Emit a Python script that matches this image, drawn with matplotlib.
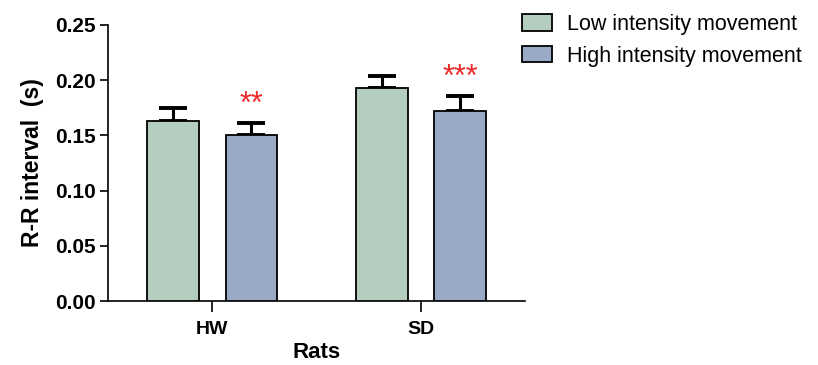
import matplotlib.pyplot as plt
import numpy as np

plt.rcParams['font.family'] = ['Liberation Sans', 'DejaVu Sans']

groups = ["HW", "SD"]
series = ["Low intensity movement", "High intensity movement"]
low_mean = [0.163, 0.193]
low_sem = [0.012, 0.011]
high_mean = [0.150, 0.172]
high_sem = [0.011, 0.014]
stars = ["", ""], ["**", "***"]

colors = ["#b5cdbf", "#9aa9c6"]

fig = plt.figure(figsize=(8.18, 3.65), dpi=100)
ax = fig.add_axes([0.132, 0.175, 0.51, 0.757])

x = np.arange(len(groups))
w = 0.248
off = 0.188

for i, (mean, sem, lab) in enumerate([(low_mean, low_sem, series[0]),
                                      (high_mean, high_sem, series[1])]):
    pos = x + (-off if i == 0 else off)
    ax.bar(pos, mean, w, color=colors[i], edgecolor="black", linewidth=1.3,
           label=lab, zorder=3)
    ax.errorbar(pos, mean, yerr=[np.zeros(len(sem)), sem], fmt="none",
                ecolor="black", elinewidth=2.2, capsize=10, capthick=2.8, zorder=2)
    for p, m, s, t in zip(pos, mean, sem, stars[i]):
        if t:
            ax.text(p, m + s + 0.009, t, color="#ee2a2a", ha="center",
                    va="baseline", fontsize=22)

ax.set_xlim(-0.5, 1.5)
ax.set_ylim(0, 0.25)
ax.set_yticks(np.arange(0, 0.26, 0.05))
ax.set_yticklabels([f"{v:.2f}" for v in np.arange(0, 0.26, 0.05)],
                   fontsize=15, fontweight="bold")
ax.set_xticks(x)
ax.set_xticklabels(groups, fontsize=14, fontweight="bold")
ax.tick_params(axis="y", length=6, width=1.2, pad=3)
ax.tick_params(axis="x", length=8, width=1.2, pad=6)
for s in ["top", "right"]:
    ax.spines[s].set_visible(False)
for s in ["left", "bottom"]:
    ax.spines[s].set_linewidth(1.2)

ax.set_ylabel("R-R interval  (s)", fontsize=16.5, fontweight="bold", labelpad=8)
ax.set_xlabel("Rats", fontsize=16, fontweight="bold", labelpad=3)

fig.legend(loc="upper left", bbox_to_anchor=(0.614, 1.015), frameon=False,
           fontsize=15.5, handlelength=1.4, handleheight=0.8, handletextpad=0.7,
           labelspacing=0.5)

fig.savefig("out.png", dpi=100)
